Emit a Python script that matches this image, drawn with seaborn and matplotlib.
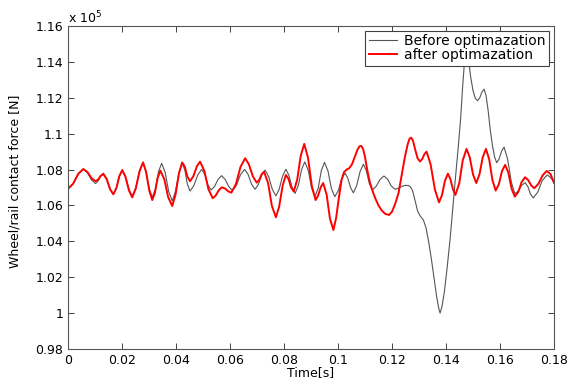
import matplotlib
matplotlib.use("Agg")
import matplotlib.pyplot as plt
from matplotlib.ticker import FuncFormatter
import seaborn as sns
import pandas as pd

# ---- data (force in units of 1e5 N) ----
before_time = [
    0.0000, 0.0019, 0.0038, 0.0057, 0.0072, 0.0087, 0.0102, 0.0112, 0.0121, 0.0131,
    0.0143, 0.0156, 0.0168, 0.0179, 0.0190, 0.0201, 0.0213, 0.0226, 0.0238, 0.0251,
    0.0265, 0.0278, 0.0289, 0.0301, 0.0312, 0.0324, 0.0335, 0.0347, 0.0360, 0.0373,
    0.0386, 0.0398, 0.0411, 0.0423, 0.0433, 0.0442, 0.0452, 0.0466, 0.0481, 0.0495,
    0.0507, 0.0518, 0.0530, 0.0543, 0.0556, 0.0569, 0.0582, 0.0596, 0.0609, 0.0624,
    0.0639, 0.0654, 0.0667, 0.0680, 0.0693, 0.0705, 0.0718, 0.0730, 0.0743, 0.0757,
    0.0770, 0.0782, 0.0795, 0.0807, 0.0818, 0.0830, 0.0841, 0.0853, 0.0865, 0.0877,
    0.0890, 0.0902, 0.0915, 0.0927, 0.0938, 0.0950, 0.0963, 0.0975, 0.0988, 0.1001,
    0.1013, 0.1026, 0.1036, 0.1047, 0.1057, 0.1069, 0.1082, 0.1094, 0.1105, 0.1116,
    0.1127, 0.1141, 0.1156, 0.1170, 0.1184, 0.1197, 0.1211, 0.1224, 0.1237, 0.1250,
    0.1260, 0.1268, 0.1276, 0.1285, 0.1295, 0.1305, 0.1316, 0.1326, 0.1336, 0.1346,
    0.1356, 0.1365, 0.1372, 0.1378, 0.1385, 0.1394, 0.1404, 0.1415, 0.1426, 0.1436,
    0.1445, 0.1454, 0.1462, 0.1469, 0.1476, 0.1483, 0.1491, 0.1500, 0.1509, 0.1517,
    0.1525, 0.1533, 0.1541, 0.1548, 0.1556, 0.1564, 0.1572, 0.1580, 0.1588, 0.1597,
    0.1606, 0.1615, 0.1628, 0.1642, 0.1655, 0.1668, 0.1680, 0.1693, 0.1703, 0.1713,
    0.1723, 0.1740, 0.1756, 0.1775, 0.1788, 0.1800,
]
before_force = [
    1.0693, 1.0721, 1.0776, 1.0803, 1.0783, 1.0742, 1.0722, 1.0737, 1.0766, 1.0780,
    1.0751, 1.0692, 1.0662, 1.0696, 1.0763, 1.0797, 1.0761, 1.0688, 1.0652, 1.0699,
    1.0792, 1.0838, 1.0790, 1.0693, 1.0645, 1.0693, 1.0788, 1.0835, 1.0783, 1.0678,
    1.0625, 1.0678, 1.0783, 1.0835, 1.0796, 1.0719, 1.0680, 1.0710, 1.0771, 1.0801,
    1.0772, 1.0715, 1.0686, 1.0706, 1.0746, 1.0766, 1.0745, 1.0704, 1.0683, 1.0713,
    1.0772, 1.0801, 1.0773, 1.0718, 1.0690, 1.0717, 1.0770, 1.0797, 1.0761, 1.0689,
    1.0653, 1.0690, 1.0765, 1.0802, 1.0768, 1.0701, 1.0667, 1.0711, 1.0799, 1.0843,
    1.0795, 1.0698, 1.0650, 1.0698, 1.0793, 1.0840, 1.0792, 1.0697, 1.0649, 1.0682,
    1.0747, 1.0780, 1.0753, 1.0698, 1.0670, 1.0710, 1.0790, 1.0830, 1.0794, 1.0722,
    1.0686, 1.0706, 1.0745, 1.0764, 1.0746, 1.0709, 1.0690, 1.0696, 1.0707, 1.0712,
    1.0711, 1.0704, 1.0683, 1.0630, 1.0568, 1.0540, 1.0520, 1.0475, 1.0395, 1.0300,
    1.0190, 1.0095, 1.0035, 1.0000, 1.0035, 1.0120, 1.0250, 1.0410, 1.0600, 1.0770,
    1.0920, 1.1080, 1.1270, 1.1410, 1.1470, 1.1420, 1.1320, 1.1240, 1.1195, 1.1184,
    1.1200, 1.1232, 1.1248, 1.1215, 1.1130, 1.1020, 1.0935, 1.0870, 1.0838, 1.0860,
    1.0903, 1.0925, 1.0860, 1.0730, 1.0665, 1.0681, 1.0712, 1.0727, 1.0706, 1.0663,
    1.0642, 1.0674, 1.0738, 1.0770, 1.0755, 1.0727,
]

after_time = [
    0.0000, 0.0019, 0.0038, 0.0057, 0.0072, 0.0087, 0.0102, 0.0112, 0.0121, 0.0131,
    0.0143, 0.0156, 0.0168, 0.0179, 0.0190, 0.0201, 0.0213, 0.0226, 0.0238, 0.0251,
    0.0265, 0.0278, 0.0289, 0.0301, 0.0312, 0.0322, 0.0332, 0.0342, 0.0357, 0.0371,
    0.0386, 0.0398, 0.0411, 0.0423, 0.0433, 0.0442, 0.0452, 0.0464, 0.0477, 0.0489,
    0.0505, 0.0520, 0.0536, 0.0547, 0.0559, 0.0570, 0.0582, 0.0593, 0.0605, 0.0622,
    0.0639, 0.0656, 0.0670, 0.0685, 0.0699, 0.0708, 0.0717, 0.0726, 0.0741, 0.0755,
    0.0770, 0.0782, 0.0795, 0.0807, 0.0817, 0.0826, 0.0836, 0.0849, 0.0862, 0.0875,
    0.0889, 0.0903, 0.0917, 0.0926, 0.0936, 0.0945, 0.0958, 0.0970, 0.0983, 0.0993,
    0.1003, 0.1013, 0.1022, 0.1032, 0.1042, 0.1052, 0.1062, 0.1072, 0.1080, 0.1086,
    0.1093, 0.1100, 0.1108, 0.1117, 0.1127, 0.1138, 0.1150, 0.1162, 0.1175, 0.1189,
    0.1200, 0.1212, 0.1224, 0.1236, 0.1248, 0.1258, 0.1265, 0.1271, 0.1278, 0.1286,
    0.1295, 0.1304, 0.1312, 0.1320, 0.1328, 0.1343, 0.1359, 0.1374, 0.1385, 0.1396,
    0.1407, 0.1416, 0.1426, 0.1435, 0.1449, 0.1462, 0.1476, 0.1488, 0.1500, 0.1512,
    0.1524, 0.1536, 0.1548, 0.1560, 0.1572, 0.1584, 0.1596, 0.1607, 0.1619, 0.1631,
    0.1643, 0.1655, 0.1668, 0.1680, 0.1693, 0.1704, 0.1716, 0.1727, 0.1742, 0.1758,
    0.1773, 0.1787, 0.1800,
]
after_force = [
    1.0693, 1.0721, 1.0776, 1.0803, 1.0786, 1.0752, 1.0735, 1.0745, 1.0765, 1.0775,
    1.0747, 1.0690, 1.0662, 1.0696, 1.0763, 1.0797, 1.0759, 1.0683, 1.0645, 1.0694,
    1.0791, 1.0840, 1.0788, 1.0683, 1.0630, 1.0671, 1.0753, 1.0794, 1.0745, 1.0646,
    1.0597, 1.0658, 1.0779, 1.0840, 1.0814, 1.0761, 1.0735, 1.0762, 1.0817, 1.0844,
    1.0793, 1.0691, 1.0640, 1.0655, 1.0686, 1.0701, 1.0694, 1.0679, 1.0671, 1.0719,
    1.0815, 1.0863, 1.0829, 1.0761, 1.0727, 1.0742, 1.0773, 1.0788, 1.0725, 1.0598,
    1.0534, 1.0593, 1.0711, 1.0770, 1.0747, 1.0701, 1.0678, 1.0744, 1.0877, 1.0943,
    1.0865, 1.0708, 1.0630, 1.0654, 1.0701, 1.0725, 1.0660, 1.0528, 1.0463, 1.0530,
    1.0640, 1.0740, 1.0785, 1.0800, 1.0808, 1.0830, 1.0870, 1.0910, 1.0930, 1.0932,
    1.0915, 1.0870, 1.0800, 1.0735, 1.0685, 1.0640, 1.0600, 1.0572, 1.0553, 1.0547,
    1.0565, 1.0610, 1.0668, 1.0770, 1.0872, 1.0940, 1.0972, 1.0978, 1.0960, 1.0910,
    1.0862, 1.0845, 1.0859, 1.0886, 1.0900, 1.0829, 1.0688, 1.0617, 1.0657, 1.0737,
    1.0777, 1.0748, 1.0689, 1.0659, 1.0723, 1.0851, 1.0915, 1.0868, 1.0773, 1.0725,
    1.0773, 1.0868, 1.0915, 1.0857, 1.0741, 1.0683, 1.0719, 1.0790, 1.0826, 1.0782,
    1.0693, 1.0649, 1.0676, 1.0730, 1.0757, 1.0742, 1.0711, 1.0696, 1.0720, 1.0768,
    1.0792, 1.0775, 1.0727,
]

series_labels = ["Before optimazation", "after optimazation"]
x_ticks = [0, 0.02, 0.04, 0.06, 0.08, 0.1, 0.12, 0.14, 0.16, 0.18]
y_ticks = [0.98, 1.0, 1.02, 1.04, 1.06, 1.08, 1.1, 1.12, 1.14, 1.16]

df_before = pd.DataFrame({"t": before_time, "F": before_force})
df_after = pd.DataFrame({"t": after_time, "F": after_force})

plt.rcParams["font.family"] = ["DejaVu Sans"]
fig = plt.figure(figsize=(5.75, 3.79), dpi=100)
fig.patch.set_facecolor("white")
ax = fig.add_axes([68 / 575, 30 / 379, 486 / 575, 323 / 379])

sns.lineplot(data=df_before, x="t", y="F", ax=ax, color="#555555", linewidth=0.8,
             estimator=None, sort=False, label=series_labels[0])
sns.lineplot(data=df_after, x="t", y="F", ax=ax, color="#ff0000", linewidth=1.4,
             estimator=None, sort=False, label=series_labels[1])

ax.set_xlim(0, 0.18)
ax.set_ylim(0.98, 1.16)
ax.set_xticks(x_ticks)
ax.set_yticks(y_ticks)
fmt = FuncFormatter(lambda v, p: f"{round(v, 4):g}")
ax.xaxis.set_major_formatter(fmt)
ax.yaxis.set_major_formatter(fmt)

ax.tick_params(direction="in", length=4, width=0.7, top=True, right=True,
               labelsize=9, pad=3.5, color="#404040", labelcolor="black")
for s in ax.spines.values():
    s.set_color("#555555")
    s.set_linewidth(0.8)

ax.set_xlabel("Time[s]", fontsize=9)
ax.set_ylabel("Wheel/rail contact force [N]", fontsize=9)
ax.yaxis.set_label_coords(-0.0947, 0.52)
ax.xaxis.set_label_coords(0.5, -0.052)

fig.text(68 / 575, 1 - 23 / 379, r"x 10$^5$", fontsize=9, ha="left", va="baseline")

leg = ax.legend(loc="upper right", bbox_to_anchor=(0.990, 0.985), borderaxespad=0,
                fontsize=10, handlelength=2.0, handletextpad=0.55, labelspacing=0.0,
                borderpad=0.25, framealpha=1, fancybox=False, edgecolor="#404040")
leg.get_frame().set_linewidth(0.8)
leg.set_zorder(10)

fig.savefig("out.png", dpi=100, facecolor="white")
